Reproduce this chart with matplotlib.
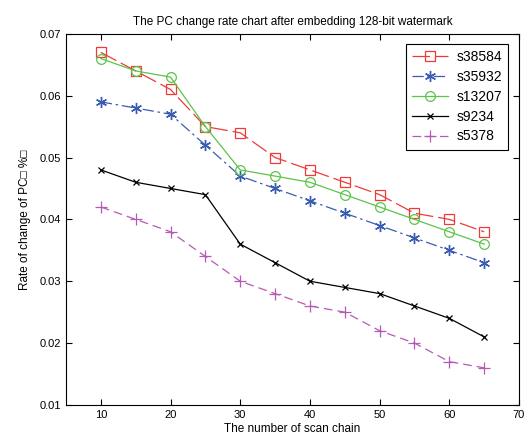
import matplotlib
matplotlib.use('Agg')
import matplotlib.pyplot as plt

chains = [10, 15, 20, 25, 30, 35, 40, 45, 50, 55, 60, 65]
s38584 = [0.067, 0.064, 0.061, 0.055, 0.054, 0.050, 0.048, 0.046, 0.044, 0.041, 0.040, 0.038]
s35932 = [0.059, 0.058, 0.057, 0.052, 0.047, 0.045, 0.043, 0.041, 0.039, 0.037, 0.035, 0.033]
s13207 = [0.066, 0.064, 0.063, 0.055, 0.048, 0.047, 0.046, 0.044, 0.042, 0.040, 0.038, 0.036]
s9234 = [0.048, 0.046, 0.045, 0.044, 0.036, 0.033, 0.030, 0.029, 0.028, 0.026, 0.024, 0.021]
s5378 = [0.042, 0.040, 0.038, 0.034, 0.030, 0.028, 0.026, 0.025, 0.022, 0.020, 0.017, 0.016]

plt.rcParams['font.family'] = ['Liberation Sans', 'DejaVu Sans']

fig = plt.figure(figsize=(5.28, 4.45), dpi=100)
ax = fig.add_axes([0.125, 0.09, 0.858, 0.834])

ax.plot(chains, s38584, color='#f03a3a', lw=0.9, dashes=(14, 4), marker='s', ms=7,
        mfc='none', mec='#f03a3a', mew=0.9, label='s38584')
ax.plot(chains, s35932, color='#3a5cb0', lw=0.9, dashes=(9, 3, 2, 3), marker=(6, 2, 0), ms=8,
        mec='#3a5cb0', mew=1.0, label='s35932')
ax.plot(chains, s13207, color='#5cc44a', lw=0.9, marker='o', ms=7,
        mfc='none', mec='#5cc44a', mew=0.9, label='s13207')
ax.plot(chains, s9234, color='black', lw=0.9, marker='x', ms=5,
        mew=0.9, label='s9234')
ax.plot(chains, s5378, color='#b45ab4', lw=0.9, dashes=(7, 4), marker='+', ms=8,
        mew=0.9, label='s5378')

ax.set_xlim(5, 70)
ax.set_ylim(0.01, 0.07)
ax.set_xticks(range(10, 71, 10))
ax.set_yticks([0.01, 0.02, 0.03, 0.04, 0.05, 0.06, 0.07])
ax.tick_params(direction='in', top=True, right=True, labelsize=8, length=4)
for s in ax.spines.values():
    s.set_linewidth(0.8)

ax.set_title('The PC change rate chart after embedding 128-bit watermark', fontsize=8.5)
ax.set_xlabel('The number of scan chain', fontsize=8.5, labelpad=2)
ax.set_ylabel('Rate of change of PC\u25a1 %\u25a1', fontsize=8.5, labelpad=6)

leg = ax.legend(loc='upper right', bbox_to_anchor=(0.976, 0.973), borderaxespad=0,
                fontsize=10, fancybox=False, edgecolor='black', framealpha=1,
                handlelength=2.6, handletextpad=0.6, borderpad=0.45, labelspacing=0.42)
leg.get_frame().set_linewidth(0.8)

fig.savefig('out.png', dpi=100)
